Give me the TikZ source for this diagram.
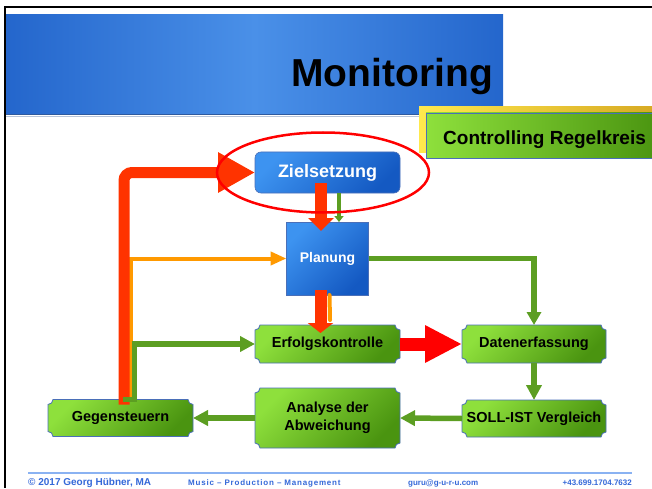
\documentclass[tikz,border=0pt]{standalone}
\usepackage{fontspec}
\setmainfont{Liberation Sans}
\newfontfamily\spacedfont[LetterSpace=10]{Liberation Sans}
\usetikzlibrary{positioning, calc, backgrounds, arrows.meta}

\definecolor{titlelight}{HTML}{4A90E8}
\definecolor{titledark}{HTML}{2466CC}
\definecolor{titleedge}{HTML}{2F5A9E}
\definecolor{titleshadow}{HTML}{B8C4D8}
\definecolor{boxlight}{HTML}{3D93F0}
\definecolor{boxdark}{HTML}{1459C2}
\definecolor{greenlight}{HTML}{8EE03C}
\definecolor{greendark}{HTML}{4A9410}
\definecolor{boxline}{HTML}{4A6FB8}
\definecolor{arrowgreen}{HTML}{5C9E22}
\definecolor{arroworange}{HTML}{FF9900}
\definecolor{arrowred}{HTML}{FF3300}
\definecolor{yellowlight}{HTML}{FFE94D}
\definecolor{yellowdark}{HTML}{D6A822}
\definecolor{footblue}{HTML}{3468D8}
\definecolor{footline}{HTML}{8AB2F2}

% green box with hollow corners, drawn round a named node
\newcommand{\greenplaque}[1]{%
  \shadedraw[plaquefill] ([xshift=5pt]#1.north west) -- ([xshift=-5pt]#1.north east)
    arc[start angle=180, end angle=270, radius=5pt] -- ([yshift=5pt]#1.south east)
    arc[start angle=90, end angle=180, radius=5pt] -- ([xshift=5pt]#1.south west)
    arc[start angle=0, end angle=90, radius=5pt] -- ([yshift=-5pt]#1.north west)
    arc[start angle=-90, end angle=0, radius=5pt] -- cycle;}

\begin{document}
\begin{tikzpicture} [
    x=1pt, y=1pt,
    greenbox/.style={rectangle, minimum width=145pt, minimum height=38pt, inner sep=1pt, outer sep=0pt, align=center, font=\fontsize{14.5}{18}\selectfont\bfseries},
    bluebox/.style={rectangle, draw=boxline, line width=0.6pt, top color=boxlight, bottom color=boxdark, shading angle=45, text=white, outer sep=0pt},
    plaquefill/.style={draw=boxline, line width=0.8pt, top color=greenlight, bottom color=greendark, shading angle=45},
    greenarrow/.style={draw=arrowgreen, line width=5.5pt, -{Triangle[width=15pt, length=15pt]}},
    orangeline/.style={draw=arroworange, line width=4pt},
    redarrow/.style={draw=arrowred, line width=12pt},
    footer/.style={text=footblue, font=\fontsize{8}{9}\selectfont\bfseries, inner sep=0pt}
]
\useasboundingbox (0,0) rectangle (652,488);

% Title bar
\shade[left color=titledark, right color=titledark, middle color=titlelight] (6,373) rectangle (503,473);
\draw[titleshadow, line width=1.5pt] (6,371.5) -- (503,371.5);
\draw[titleedge, line width=1pt] (6,373.5) -- (503,373.5);
\node[anchor=base east, inner sep=0pt, font=\fontsize{39}{42}\selectfont\bfseries] (title) at (493,401) {Monitoring};

% Subtitle
\shade[left color=yellowlight, right color=yellowdark] (419,335) rectangle (660,381);
\shadedraw[left color=greenlight, right color=greendark, draw=boxline, line width=0.6pt] (426,330) rectangle (660,375);
\node[anchor=base west, inner sep=0pt, font=\fontsize{19}{21}\selectfont\bfseries] (regelkreis) at (443,343) {Controlling Regelkreis};

% Frame
\draw[line width=2pt] (652,480.5) -- (5.3,480.5) -- (5.3,0);

% Nodes
\node[bluebox, rounded corners=6pt, minimum width=145pt, minimum height=41pt, font=\fontsize{18}{20}\selectfont\bfseries] (ziel) at (327.5,315.5) {Zielsetzung};
\node[bluebox, minimum width=82pt, minimum height=73pt, font=\fontsize{14}{16}\selectfont\bfseries, below=29pt of ziel] (plan) {Planung};
\node[greenbox, below=30pt of plan] (erfolg) {Erfolgskontrolle};
\node[greenbox, below=25pt of erfolg, minimum height=60pt] (analyse) {Analyse der\\Abweichung};
\node[greenbox, right=62pt of erfolg, minimum width=144pt] (daten) {Datenerfassung};
\node[greenbox, below=37pt of daten, minimum width=144pt, minimum height=37pt] (soll) {SOLL-IST Vergleich};
\node[greenbox, left=62pt of analyse, minimum height=37pt] (gegen) {Gegensteuern};

\begin{scope}[on background layer]
    \foreach \n in {erfolg, analyse, daten, soll, gegen} {\greenplaque{\n}}
\end{scope}

% Feedback
\draw[orangeline, -{Triangle[width=13pt, length=16pt]}] ([xshift=10pt]gegen.north) |- (plan.west);
\draw[redarrow, line width=11pt, rounded corners=8pt, -{Triangle[width=38pt, length=37pt]}] ([shift={(3.5pt,-5pt)}]gegen.north) |- (ziel.west);
\draw[greenarrow] ([xshift=2pt]gegen.north) -- ([xshift=14pt]gegen.north) |- (erfolg.west);

% Main flow
\draw[draw=arrowgreen, line width=4pt, -{Triangle[width=9pt, length=6pt]}] ([xshift=11.5pt]ziel.south) -- ([xshift=11.5pt]plan.north);
\draw[redarrow, -{Triangle[width=25pt, length=13pt]}] ([shift={(-6.5pt,10pt)}]ziel.south) -- ([shift={(-6.5pt,-9pt)}]plan.north);
\draw[orangeline, line cap=round] ([xshift=2pt]plan.south) -- ([shift={(2.5pt,5pt)}]erfolg.north);
\draw[redarrow, -{Triangle[width=25pt, length=10pt]}] ([shift={(-7pt,5pt)}]plan.south) -- ([shift={(-7pt,-8pt)}]erfolg.north);
\draw[draw=red, line width=13pt, -{Triangle[width=35pt, length=37pt]}] (erfolg.east) -- (daten.west);
\draw[greenarrow, -{Triangle[width=14pt, length=13pt]}] (plan.east) -| (daten.north);
\draw[greenarrow] (daten.south) -- (soll.north);
\draw[greenarrow] (soll.west) -- (analyse.east);
\draw[greenarrow] (analyse.west) -- (gegen.east);

% Highlight
\draw[red, line width=2.5pt] ([xshift=-4.5pt]ziel.center) ellipse[x radius=106pt, y radius=40pt];

% Footer
\draw[footline, line width=1.5pt] (28,15) -- (632,15);
\node[footer, anchor=base west, font=\fontsize{10}{11}\selectfont\bfseries] (copyright) at (28,3) {\textcopyright\ 2017 Georg Hübner, MA};
\node[footer, anchor=base west, font=\spacedfont\fontsize{8}{9}\selectfont\bfseries] (motto) at (188,3) {Music – Production – Management};
\node[footer, anchor=base west] (mail) at (408,3) {guru@g-u-r-u.com};
\node[footer, anchor=base east] (phone) at (632,3) {+43.699.1704.7632};

\end{tikzpicture}
\end{document}
